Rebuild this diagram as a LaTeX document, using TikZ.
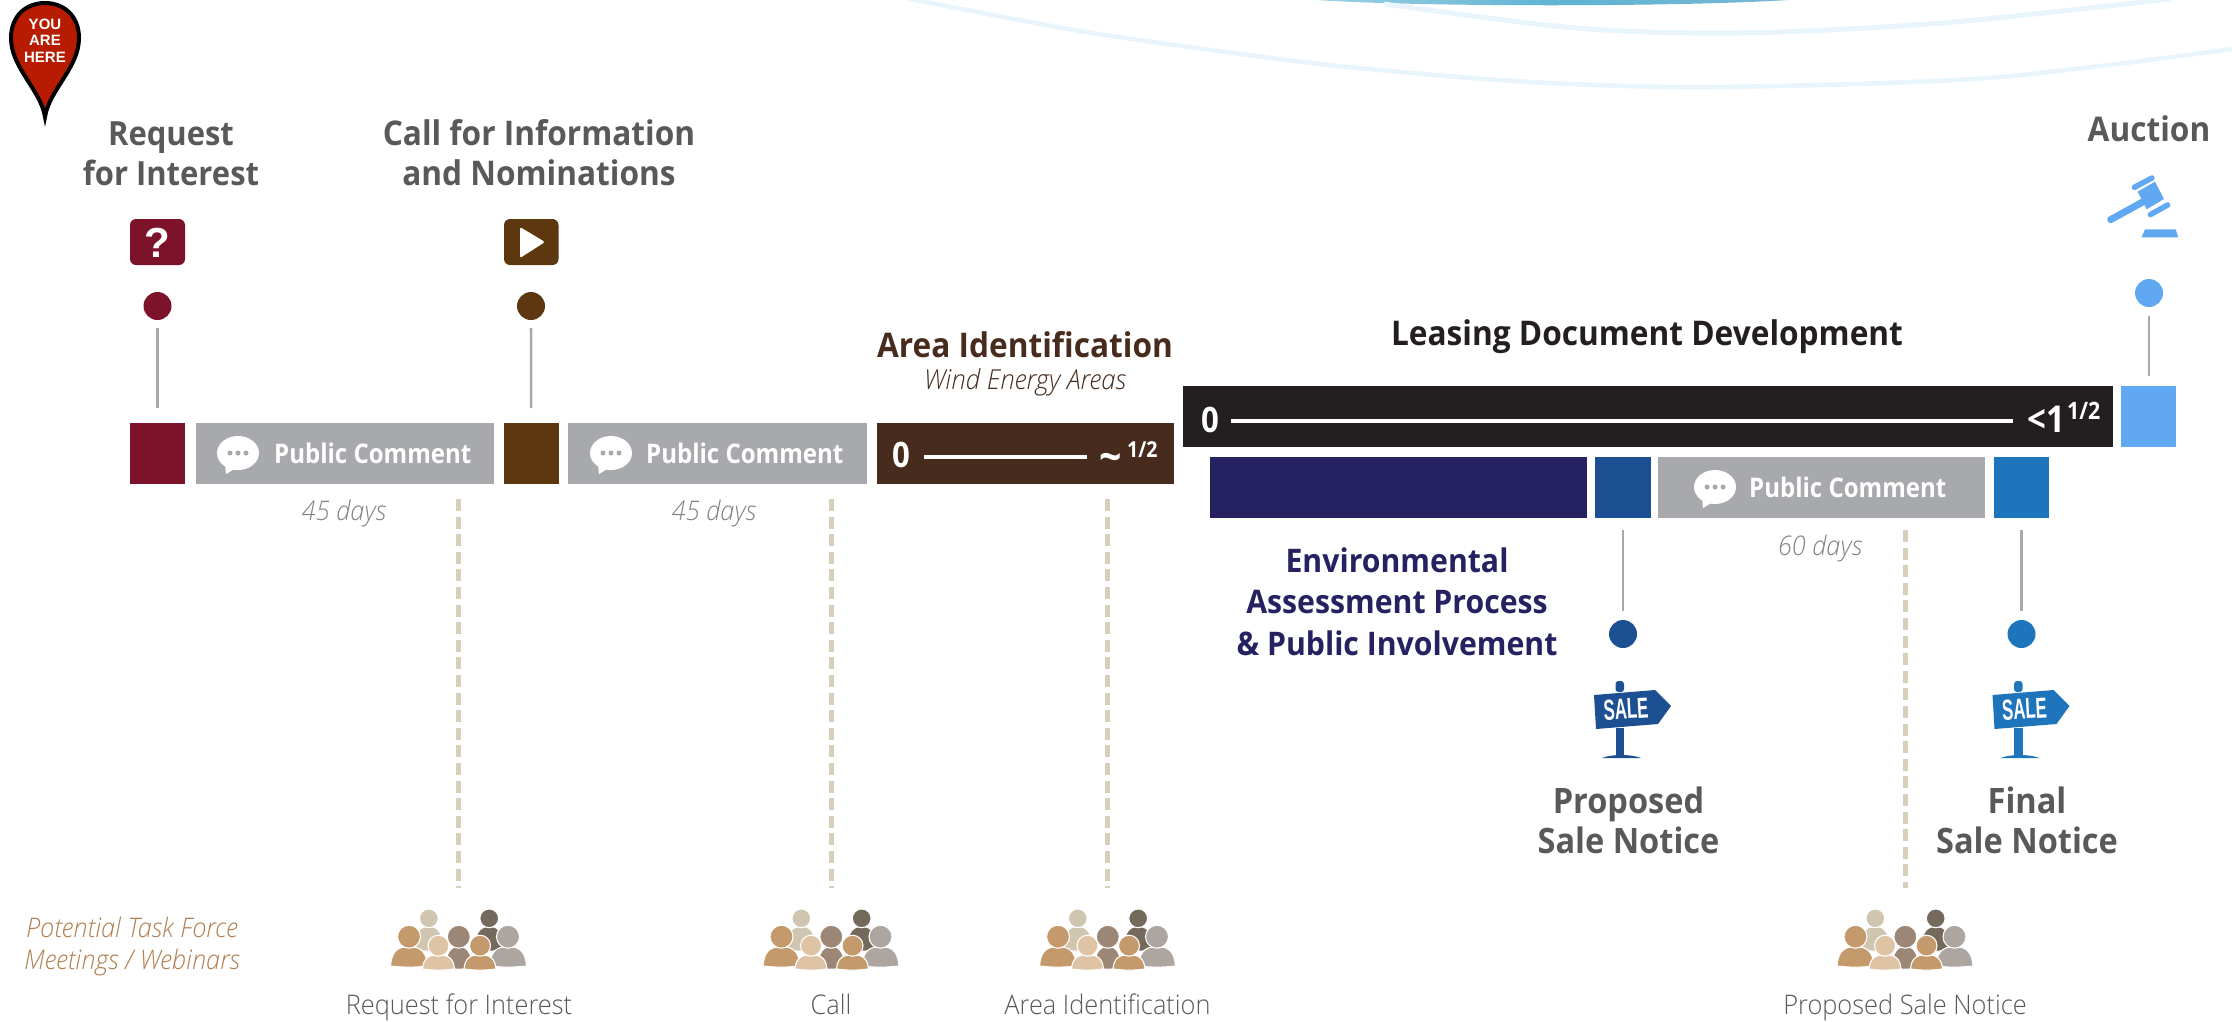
\documentclass[tikz,border=0pt]{standalone}
\usepackage{fontspec}
\setmainfont{Open Sans}
\newfontfamily\hd[FakeStretch=0.93]{Open Sans}
\newfontfamily\cond[FakeStretch=0.89]{Open Sans}
\newfontfamily\thin[FakeStretch=0.94]{Open Sans Light}
\newfontfamily\arial{Liberation Sans}
\newfontfamily\sal[FakeStretch=0.58]{Liberation Sans}
\definecolor{maroon}{HTML}{7C132B}
\definecolor{brownA}{HTML}{5C3710}
\definecolor{brownB}{HTML}{472C1E}
\definecolor{ink}{HTML}{231F20}
\definecolor{navy}{HTML}{262262}
\definecolor{blueA}{HTML}{1C5093}
\definecolor{blueB}{HTML}{1E75BC}
\definecolor{blueC}{HTML}{60A9F2}
\definecolor{barg}{HTML}{A7A9AC}
\definecolor{txtg}{HTML}{58595B}
\definecolor{dashc}{HTML}{D8CFBB}
\definecolor{tanc}{HTML}{B07F4F}
\definecolor{daysg}{HTML}{808285}
\definecolor{swirl}{HTML}{E8F5FC}
\definecolor{pinred}{HTML}{B81C00}
\definecolor{waterA}{HTML}{5FB3D3}
\definecolor{waterB}{HTML}{3F97C2}
\definecolor{pA}{HTML}{D0C6B0}
\definecolor{pB}{HTML}{74695A}
\definecolor{pC}{HTML}{9C8676}
\definecolor{pD}{HTML}{C49A6C}
\definecolor{pE}{HTML}{ACA5A0}
\definecolor{pF}{HTML}{DFC3A5}
\tikzset{
  lab/.style={anchor=base,inner sep=0pt,outer sep=0pt,align=center},
  head/.style={lab,text=txtg,font=\fontsize{#1}{40}\selectfont\hd\bfseries},
  head/.default=34,
  days/.style={lab,text=daysg,font=\fontsize{27}{30}\selectfont\thin\itshape},
  grp/.style={lab,text=txtg,font=\fontsize{27}{30}\selectfont\thin},
  pc/.style={anchor=base west,inner sep=0pt,text=white,font=\fontsize{27}{30}\selectfont\cond\bfseries},
  bw/.style={anchor=base west,inner sep=0pt,text=white,font=\fontsize{#1}{#1}\selectfont\cond\bfseries},
  dot/.style={circle,fill=#1,minimum size=28pt,inner sep=0pt,outer sep=0pt},
  stem/.style={draw=barg,line width=2.6pt},
  dashline/.style={draw=dashc,line width=5pt,dash pattern=on 12pt off 5.6pt},
  crowd/.style={rectangle,minimum width=136pt,minimum height=58pt,inner sep=0pt},
  curve/.style={draw=swirl,line width=4.5pt},
  barline/.style={draw=white,line width=4.5pt}
}
\newcommand{\boxn}[6]{\node[rectangle,fill=#6,inner sep=0pt,outer sep=0pt,minimum width={(#4-#2)*1pt},minimum height={(#5-#3)*1pt}] (#1) at ({(#2+#4)/2},{(#3+#5)/2}) {};}
\newcommand{\person}[6]{%
  \pgfmathsetmacro\ptop{#2+#3*0.85}%
  \fill[#6,draw=white,line width=1.1pt] ({#1-#4},#5) .. controls ({#1-#4*0.95},{#5-(#5-\ptop)*0.65}) and ({#1-#4*0.7},\ptop) .. (#1,\ptop) .. controls ({#1+#4*0.7},\ptop) and ({#1+#4*0.95},{#5-(#5-\ptop)*0.65}) .. ({#1+#4},#5) .. controls ({#1+#4*0.3},{#5+1.5}) and ({#1-#4*0.3},{#5+1.5}) .. cycle;
  \fill[#6,draw=white,line width=1.1pt] (#1,#2) circle[radius=#3];}
\newcommand{\crowdicon}[2]{%
  \node[crowd] (#1) at (#2,939) {};
  \begin{scope}[shift={(#2,900)}]
    \person{-29.7}{18.3}{9.4}{15}{50}{pA}
    \person{30.7}{18.3}{9.4}{15}{50}{pB}
    \person{0.3}{36.7}{11.5}{13.5}{68}{pC}
    \person{-49.5}{36.7}{11.5}{18.5}{66}{pD}
    \person{49.5}{36.7}{11.5}{18.5}{66}{pE}
    \person{-20}{45.7}{10.5}{16}{69}{pF}
    \person{21.5}{45.7}{10.5}{16}{69}{pD}
  \end{scope}}
\newcommand{\bubble}[2]{%
  \fill[white] (#1,#2) ellipse[x radius=21,y radius=17];
  \fill[white] ({#1-13},{#2+11}) -- ({#1-12},{#2+21}) -- ({#1-2},{#2+15}) -- cycle;
  \foreach \dd in {-8,0,8}{\fill[barg] ({#1+\dd},#2) circle[radius=2.5];}}
\newcommand{\saleicon}[3]{%
  \begin{scope}[shift={(#1,0)}]
    \fill[#2,rounded corners=3pt] (1615.5,692) -- (1615.5,681) -- (1624,681) -- (1624,692) -- cycle;
    \fill[#2] (1615.5,728) rectangle (1624,756);
    \fill[#2] (1602,758) .. controls (1612,754) and (1631,754) .. (1641,758) -- cycle;
    \fill[#2] (1594,695) -- (1655,690) -- (1671,706) -- (1658,724) -- (1596,729) -- cycle;
    \node[anchor=center,inner sep=0pt,rotate=3,text=white,font=\fontsize{29}{30}\selectfont\sal\bfseries] (#3) at (1626,709) {SALE};
  \end{scope}}
\begin{document}
\begin{tikzpicture}[x=1pt,y=-1pt]
\useasboundingbox (0,0) rectangle (2232,1021);
% background water and swirls
\shade[left color=waterA!60!white,right color=waterB!70!white,middle color=waterA] (1316,0) .. controls (1420,7) and (1680,7) .. (1788,0) -- cycle;
\draw[curve] plot[smooth] coordinates {(905,-2) (1074,30) (1211,50) (1348,67) (1530,82) (1713,87) (1987,78) (2232,49)};
\draw[curve,line width=5pt] plot[smooth] coordinates {(1384,4) (1576,28) (1740,33) (1942,23) (2170,-1)};
% pin
\fill[pinred,draw=black,line width=4pt,line join=miter] (45,117) .. controls (41,90) and (11,68) .. (11,38) .. controls (11,16) and (26,3) .. (45,3) .. controls (64,3) and (79,16) .. (79,38) .. controls (79,68) and (49,90) .. (45,117) -- cycle;
\node[lab,text=white,font=\fontsize{15}{16.5}\selectfont\arial\bfseries] (pin) at (45,29) {YOU};
\node[lab,text=white,font=\fontsize{15}{16.5}\selectfont\arial\bfseries] (pinb) at (45,45) {ARE};
\node[lab,text=white,font=\fontsize{15}{16.5}\selectfont\arial\bfseries] (pinc) at (45,62) {HERE};
% top headings
\node[head=33.3] (hR) at (171,145) {Request};
\node[head=33.3] (hRb) at (171,185) {for Interest};
\node[head] (hC) at (539,145) {Call for Information};
\node[head] (hCb) at (539,185) {and Nominations};
\node[head] (hAu) at (2149,141) {Auction};
% icons
\fill[maroon,rounded corners=6pt] (130,219) rectangle (185,265);
\node[anchor=center,inner sep=0pt,text=white,font=\fontsize{42}{42}\selectfont\arial\bfseries] (qm) at (157.5,242.5) {?};
\fill[brownA,rounded corners=6pt] (504,219) rectangle (558.5,265);
\fill[white,rounded corners=1.5pt] (520,227) -- (545,242) -- (520,258) -- cycle;
% gavel
\begin{scope}[shift={(1800,0)},x=0.3333pt,y=-0.3333pt]
  \draw[blueC,line width=7pt,line cap=round] (932,659) -- (1030,605);
  \fill[blueC] (1013,575) -- (1065,545) -- (1092,597) -- (1040,628) -- cycle;
  \draw[blueC,line width=5.5pt,line cap=round] (1003,562) -- (1056,534);
  \draw[blueC,line width=5.5pt,line cap=round] (1051,644) -- (1103,615);
  \fill[blueC] (1025,712) -- (1135,712) -- (1127,688) -- (1035,688) -- cycle;
\end{scope}
% row 1 boxes
\boxn{sqR}{130}{423}{185}{484}{maroon}
\boxn{pcA}{196}{423}{494}{484}{barg}
\boxn{sqC}{504}{423}{558.5}{484}{brownA}
\boxn{pcB}{568}{423}{867}{484}{barg}
\boxn{area}{877}{423}{1174}{484}{brownB}
\boxn{lease}{1183}{386}{2113}{447}{ink}
\boxn{sqAu}{2121}{386}{2176}{447}{blueC}
% row 2 boxes
\boxn{env}{1210}{457}{1587}{518}{navy}
\boxn{sqP}{1595}{457}{1651}{518}{blueA}
\boxn{pcC}{1658}{457}{1985}{518}{barg}
\boxn{sqF}{1994}{457}{2049}{518}{blueB}
% dots
\node[dot=maroon] (dR) at (157.5,306) {};
\node[dot=brownA] (dC) at (531,306) {};
\node[dot=blueC] (dAu) at (2149,293) {};
\node[dot=blueA] (dP) at (1623,634) {};
\node[dot=blueB] (dF) at (2021.5,634) {};
% stems
\draw[stem,shorten <=8pt,shorten >=15pt] (dR) -- (sqR);
\draw[stem,shorten <=8pt,shorten >=15pt] (dC) -- (sqC);
\draw[stem,shorten <=9pt,shorten >=10pt] (dAu) -- (dAu |- sqAu.north);
\draw[stem,shorten <=12pt,shorten >=9pt] (sqP.south -| dP) -- (dP.north);
\draw[stem,shorten <=12pt,shorten >=9pt] (sqF.south -| dF) -- (dF.north);
% public comment
\bubble{238}{453}
\node[pc] (tA) at (274,463) {Public Comment};
\bubble{611}{453}
\node[pc] (tB) at (646,463) {Public Comment};
\bubble{1715}{487}
\node[pc] (tC) at (1749,497) {Public Comment};
\node[days] (dA) at (344,520) {45 days};
\node[days] (dB) at (714,520) {45 days};
\node[days] (dCc) at (1820,555) {60 days};
% area identification
\node[lab,text=brownB,font=\fontsize{34}{40}\selectfont\hd\bfseries] (aT) at (1025,357) {Area Identification};
\node[lab,text=brownB,font=\fontsize{27.5}{30}\selectfont\thin\itshape] (aS) at (1025,389) {Wind Energy Areas};
\node[bw=35] (a0) at (892,467) {0};
\coordinate (aL1) at (924,457);
\coordinate (aL2) at (1087,457);
\draw[barline] (aL1) -- (aL2);
\node[bw=44] (aT1) at (1099,472) {\textasciitilde};
\node[bw=22] (aT2) at (1127,457) {1/2};
% leasing
\node[lab,text=ink,font=\fontsize{34}{40}\selectfont\hd\bfseries] (lT) at (1647,345) {Leasing Document Development};
\node[bw=35] (l0) at (1201,432) {0};
\coordinate (lL1) at (1231,421);
\coordinate (lL2) at (2013,421);
\draw[barline] (lL1) -- (lL2);
\node[bw=37] (l1) at (2027,432) {<1};
\node[bw=24] (l2) at (2067,419) {1/2};
% environmental
\node[lab,text=navy,font=\fontsize{32.5}{40}\selectfont\hd\bfseries] (eA) at (1397,572) {Environmental};
\node[lab,text=navy,font=\fontsize{32.5}{40}\selectfont\hd\bfseries] (eB) at (1397,613) {Assessment Process};
\node[lab,text=navy,font=\fontsize{32.5}{40}\selectfont\hd\bfseries] (eC) at (1397,655) {\& Public Involvement};
% sale notices
\saleicon{0}{blueA}{saleA}
\saleicon{398.5}{blueB}{saleB}
\node[head=35] (nP) at (1628.5,813) {Proposed};
\node[head=35] (nPb) at (1628.5,853) {Sale Notice};
\node[head=35] (nF) at (2027,813) {Final};
\node[head=35] (nFb) at (2027,853) {Sale Notice};
% task force
\node[lab,text=tanc,font=\fontsize{27}{30}\selectfont\thin\itshape] (tf) at (132,937) {Potential Task Force};
\node[lab,text=tanc,font=\fontsize{27}{30}\selectfont\thin\itshape] (tfb) at (132,969) {Meetings / Webinars};
\crowdicon{gA}{458.5}
\crowdicon{gB}{831}
\crowdicon{gC}{1107.5}
\crowdicon{gD}{1905}
\coordinate (cA) at (458.5,499);
\coordinate (cB) at (831,499);
\coordinate (cC) at (1107.5,499);
\coordinate (cD) at (1905,530);
\draw[dashline,shorten >=22pt] (cA) -- (gA.north);
\draw[dashline,shorten >=22pt] (cB) -- (gB.north);
\draw[dashline,shorten >=22pt] (cC) -- (gC.north);
\draw[dashline,shorten >=22pt] (cD) -- (gD.north);
\node[grp] (lA) at (459,1014) {Request for Interest};
\node[grp] (lB) at (831,1014) {Call};
\node[grp] (lC) at (1107.5,1014) {Area Identification};
\node[grp] (lD) at (1905,1014) {Proposed Sale Notice};
\end{tikzpicture}
\end{document}
